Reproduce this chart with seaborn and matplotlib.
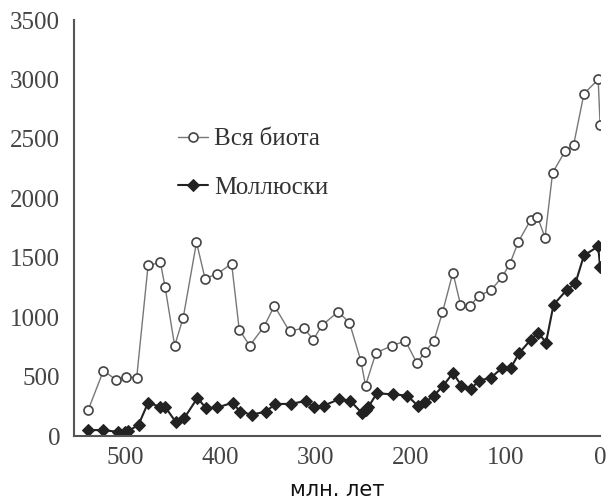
import matplotlib
matplotlib.use("Agg")
import matplotlib.pyplot as plt
import seaborn as sns
import pandas as pd

# Age (million years ago) and number of genera
biota_age = [539, 523, 510, 499, 488, 476, 463, 458, 448, 439, 425, 416, 403, 388,
             380, 369, 354, 343, 327, 312, 302, 293, 276, 264, 252, 247, 236, 219,
             205, 193, 184, 175, 166, 155, 147, 137, 128, 115, 103, 95, 86, 73, 66,
             58, 50, 37, 28, 17, 2, 0]
biota_val = [220, 550, 475, 500, 490, 1435, 1460, 1250, 760, 995, 1630, 1325, 1365,
             1450, 895, 760, 920, 1095, 880, 910, 810, 930, 1045, 955, 635, 425, 700,
             760, 800, 615, 710, 800, 1040, 1375, 1105, 1090, 1180, 1225, 1340, 1450,
             1635, 1820, 1845, 1670, 2215, 2395, 2445, 2880, 3000, 2620]

moll_age = [539, 523, 508, 500, 497, 486, 476, 463, 458, 447, 438, 424, 415, 403,
            387, 379, 367, 352, 342, 326, 310, 301, 291, 275, 263, 251, 247, 244,
            235, 218, 203, 192, 184, 175, 165, 155, 146, 136, 128, 115, 103, 94, 85,
            73, 65, 57, 49, 35, 26, 17, 2, 0]
moll_val = [50, 50, 35, 35, 40, 95, 280, 245, 245, 120, 150, 320, 235, 240, 280, 205,
            180, 205, 270, 270, 295, 240, 255, 310, 295, 195, 220, 245, 360, 350, 340,
            255, 285, 340, 425, 530, 425, 395, 465, 490, 575, 575, 700, 810, 870, 785,
            1105, 1230, 1285, 1520, 1595, 1425]

series_names = ["Вся биота", "Моллюски"]
x_ticks = [500, 400, 300, 200, 100, 0]
y_ticks = [0, 500, 1000, 1500, 2000, 2500, 3000, 3500]
x_label = "млн. лет"

sns.set_theme(style="white")
plt.rcParams["font.family"] = ["Liberation Serif", "DejaVu Serif"]

biota = pd.DataFrame({"age": biota_age, "count": biota_val})
moll = pd.DataFrame({"age": moll_age, "count": moll_val})

fig = plt.figure(figsize=(6.08, 5.01), dpi=100)
ax = fig.add_axes([0.1217, 0.1297, 0.8653, 0.8303])

sns.lineplot(data=biota, x="age", y="count", ax=ax, color="#777777", lw=1.0,
             marker="o", markersize=6.5, markerfacecolor="white",
             markeredgecolor="#444444", markeredgewidth=1.2,
             label=series_names[0], sort=False)
sns.lineplot(data=moll, x="age", y="count", ax=ax, color="#222222", lw=1.5,
             marker="D", markersize=6.3, markerfacecolor="#222222",
             markeredgecolor="#222222", label=series_names[1], sort=False)

ax.set_xlim(554, 0)
ax.set_ylim(0, 3500)
ax.set_xticks(x_ticks)
ax.set_yticks(y_ticks)
ax.set_xticklabels([str(t) for t in x_ticks])
ax.set_yticklabels([str(t) for t in y_ticks])

for side in ("top", "right"):
    ax.spines[side].set_visible(False)
for side in ("left", "bottom"):
    ax.spines[side].set_color("#555555")
    ax.spines[side].set_linewidth(1.5)

ax.tick_params(axis="both", direction="in", length=8, width=1.3,
               colors="#555555", labelcolor="#444444", labelsize=18)
ax.tick_params(axis="x", pad=8)
ax.tick_params(axis="y", pad=10)

ax.set_ylabel("")
ax.set_xlabel(x_label, family=["DejaVu Sans"], fontsize=15, color="#111111",
              labelpad=8)

leg = ax.legend(loc="upper left", bbox_to_anchor=(0.198, 0.741), frameon=False,
                fontsize=18, handlelength=1.2, handletextpad=0.25,
                labelspacing=1.03, borderpad=0, borderaxespad=0)
for txt in leg.get_texts():
    txt.set_color("#333333")

fig.savefig("out.png", dpi=100)
